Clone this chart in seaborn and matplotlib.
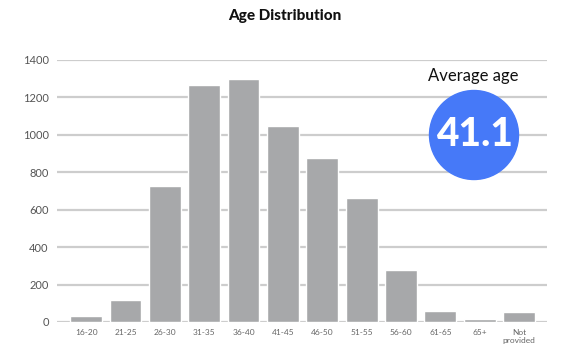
import pandas as pd
import seaborn as sns
import matplotlib.pyplot as plt
from matplotlib.patches import Ellipse

# datos
age_groups = ["16-20", "21-25", "26-30", "31-35", "36-40", "41-45",
              "46-50", "51-55", "56-60", "61-65", "65+", "Not\nprovided"]
counts = [32, 115, 725, 1265, 1298, 1050, 875, 660, 280, 60, 18, 52]
average_age = 41.1

df = pd.DataFrame({"group": age_groups, "count": counts})

sns.set_style("white")
plt.rcParams["font.family"] = ["Lato", "DejaVu Sans"]

fig = plt.figure(figsize=(5.7, 3.45), dpi=100)
ax = fig.add_axes([57 / 570, 1 - 322 / 345, 490 / 570, 262 / 345])

sns.barplot(data=df, x="group", y="count", color="#A7A8AA", saturation=1,
            width=0.81, ax=ax, zorder=2)

ax.set_ylim(0, 1400)
ax.set_xlim(-0.74, 11.71)
ax.set_yticks(range(0, 1401, 200))
ax.yaxis.grid(True, color="#CDCDCD", linewidth=1.6, zorder=0)
ax.set_axisbelow(True)
sns.despine(ax=ax, left=True, bottom=True)
ax.tick_params(axis="both", length=0)
ax.tick_params(axis="y", labelsize=8, colors="#555555", pad=6)
ax.tick_params(axis="x", labelsize=6, colors="#666666", pad=5)
ax.set_xlabel("")
ax.set_ylabel("")

fig.text(0.5, 1 - 16 / 345, "Age Distribution", ha="center", va="center",
         fontsize=11, fontweight="black", color="#111111")

# círculo con la edad media
cx, cy, r = 474, 135, 44.5
fig.add_artist(Ellipse((cx / 570, 1 - cy / 345), 2 * r / 570, 2 * r / 345,
                       transform=fig.transFigure, color="#4679F8", zorder=5))
fig.text(cx / 570, 1 - cy / 345, f"{average_age}", ha="center", va="center",
         fontsize=28, fontweight="black", color="white", zorder=6)
fig.text(473 / 570, 1 - 76 / 345, "Average age", ha="center", va="center",
         fontsize=12, color="#111111", zorder=6)

fig.savefig("out.png", dpi=100)
